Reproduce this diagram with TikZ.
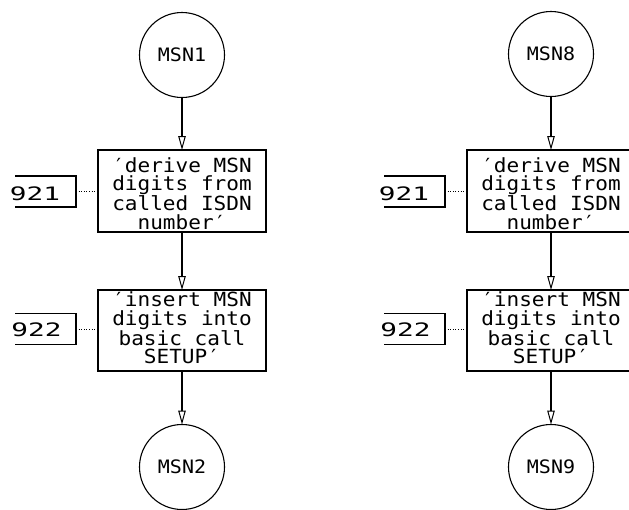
\documentclass[tikz,border=0pt]{standalone}
\usepackage{fontspec}
\usetikzlibrary{arrows.meta}
\newfontfamily\boxfont[FakeStretch=1.08]{DejaVu Sans Mono}
\newfontfamily\numfont[FakeStretch=1.5]{DejaVu Sans Mono}
\begin{document}
\begin{tikzpicture}[x=1pt,y=-1pt,
  every node/.style={inner sep=0pt, outer sep=0pt},
  stepbox/.style={draw, line width=1.1pt, minimum width=168pt},
  term/.style={draw, circle, line width=1.1pt, minimum size=85pt,
    font=\boxfont\fontsize{18.5}{20}\selectfont},
  boxtext/.style={align=center, font=\boxfont\fontsize{19.5}{18.6}\selectfont},
  refbox/.style={minimum width=61pt, minimum height=31pt},
  reftext/.style={font=\numfont\fontsize{18.5}{20}\selectfont},
  refline/.style={line width=1.1pt},
  flow/.style={line width=1.1pt, -{Triangle[open, length=14pt, width=7.5pt, line width=1pt]}},
  dotline/.style={line width=0.9pt, dash pattern=on 1pt off 1.6pt}]
\useasboundingbox (0,0) rectangle (629,509);
\clip (0,0) rectangle (629,509);
% ---------- left column ----------
\node[term] (c1) at (182,55) {MSN1};
\node[stepbox, minimum height=82pt] (b1) at (182,191) {};
\node[boxtext] (b1t) at (182,193.6) {′derive MSN\\digits from\\called ISDN\\number′};
\node[stepbox, minimum height=81pt] (b2) at (182,330.5) {};
\node[boxtext] (b2t) at (182,328) {′insert MSN\\digits into\\basic call\\SETUP′};
\node[term] (c2) at (182,467) {MSN2};
\node[refbox] (l1) at (45.5,191.5) {};
\node[reftext] (l1t) at (35,194) {921};
\node[refbox] (l2) at (45.5,329) {};
\node[reftext] (l2t) at (36.5,330) {922};
\draw[refline] (l1.north west) -- (l1.north east) -- (l1.south east) -- (l1.south west);
\draw[refline] (l2.north west) -- (l2.north east) -- (l2.south east) -- (l2.south west);
\draw[dotline] (l1.east) -- (l1.east -| b1.west);
\draw[dotline] (l2.east) -- (l2.east -| b2.west);
\draw[flow] (c1.south) -- (b1.north);
\draw[flow] (b1.south) -- (b2.north);
\draw[flow] (b2.south) -- (c2.north);
% ---------- right column ----------
\node[term] (c8) at (551,54) {MSN8};
\node[stepbox, minimum height=82pt] (b8) at (551,191) {};
\node[boxtext] (b8t) at (551,193.6) {′derive MSN\\digits from\\called ISDN\\number′};
\node[stepbox, minimum height=81pt] (b9) at (551,330.5) {};
\node[boxtext] (b9t) at (551,328) {′insert MSN\\digits into\\basic call\\SETUP′};
\node[term] (c9) at (551,467) {MSN9};
\node[refbox] (r1) at (414.5,191.5) {};
\node[reftext] (r1t) at (404,194) {921};
\node[refbox] (r2) at (414.5,329) {};
\node[reftext] (r2t) at (405.5,330) {922};
\draw[refline] (r1.north west) -- (r1.north east) -- (r1.south east) -- (r1.south west);
\draw[refline] (r2.north west) -- (r2.north east) -- (r2.south east) -- (r2.south west);
\draw[dotline] (r1.east) -- (r1.east -| b8.west);
\draw[dotline] (r2.east) -- (r2.east -| b9.west);
\draw[flow] (c8.south) -- (b8.north);
\draw[flow] (b8.south) -- (b9.north);
\draw[flow] (b9.south) -- (c9.north);
\end{tikzpicture}
\end{document}
